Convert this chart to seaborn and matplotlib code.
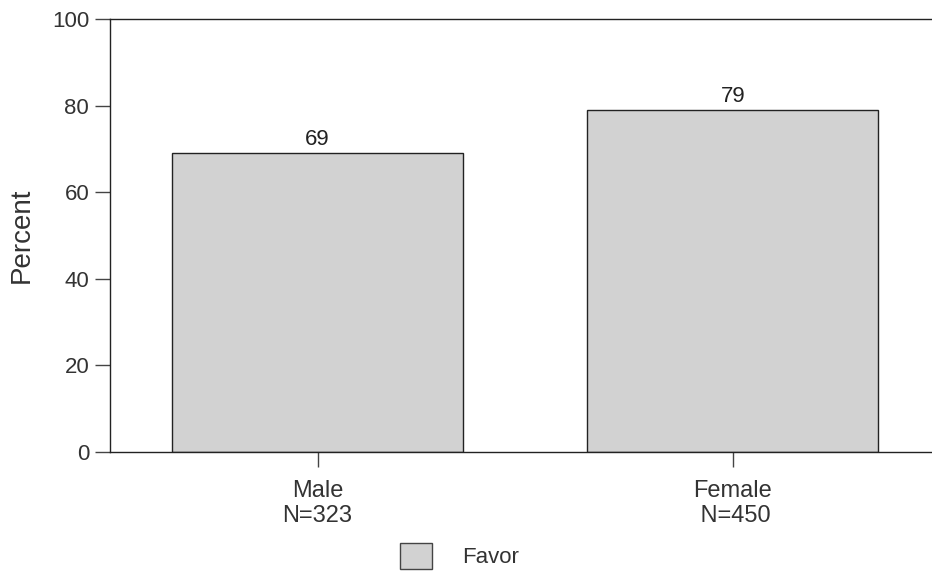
import matplotlib
matplotlib.use("Agg")
import matplotlib.pyplot as plt
import seaborn as sns
import pandas as pd
from matplotlib.patches import Patch

# data
groups = ["Male\nN=323", "Female\n N=450"]
favor_pct = [69, 79]
yticks = [0, 20, 40, 60, 80, 100]

bar_color = "#d2d2d2"

sns.set_theme(style="white")
plt.rcParams["font.family"] = ["Liberation Sans", "DejaVu Sans"]

df = pd.DataFrame({"group": groups, "pct": favor_pct})

fig = plt.figure(figsize=(9.32, 5.71), dpi=100)
ax = fig.add_axes([110 / 932, 119 / 571, 1 - 110 / 932, 433 / 571])

sns.barplot(data=df, x="group", y="pct", color=bar_color, width=0.7,
            edgecolor="#222222", linewidth=1.0, saturation=1, ax=ax)

ax.bar_label(ax.containers[0], fontsize=16, padding=2, color="#222222")

ax.set_xlim(-0.5, 1.48)
ax.set_ylim(0, 100)
ax.set_yticks(yticks)
ax.set_xlabel("")
ax.set_ylabel("Percent", fontsize=20, labelpad=12, color="#333333")

for side in ["left", "top", "bottom"]:
    ax.spines[side].set_color("#222222")
    ax.spines[side].set_linewidth(1.0)
ax.spines["right"].set_visible(False)

ax.tick_params(axis="y", length=11, width=1, color="#444444", labelsize=16,
               pad=4, left=True, labelcolor="#333333")
ax.tick_params(axis="x", length=11, width=1, color="#444444", labelsize=17,
               pad=9, bottom=True, labelcolor="#333333")

fig.legend(handles=[Patch(facecolor=bar_color, edgecolor="#444444", label="Favor")],
           loc="center left", bbox_to_anchor=(380 / 932, 1 - 556 / 571),
           frameon=False, fontsize=16, handlelength=1.45, handleheight=1.45,
           handletextpad=1.35, labelcolor="#333333")

fig.savefig("out.png", dpi=100)
